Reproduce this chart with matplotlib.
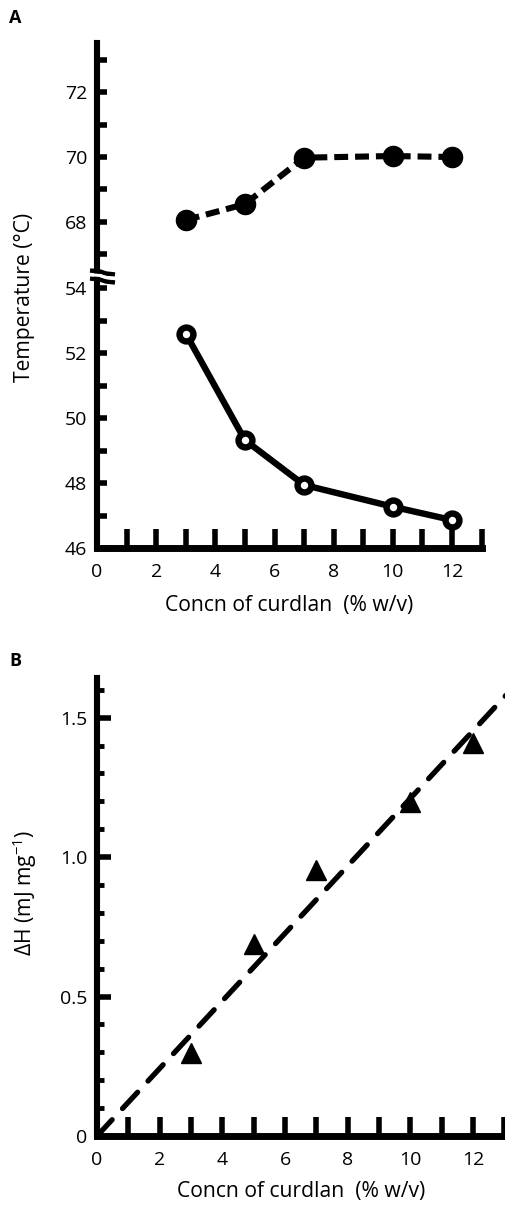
import matplotlib
matplotlib.use("Agg")
import matplotlib.pyplot as plt
from matplotlib.ticker import FixedLocator
from matplotlib.lines import Line2D

plt.rcParams['font.family'] = ['Open Sans', 'DejaVu Sans']
plt.rcParams['mathtext.default'] = 'regular'
plt.rcParams['lines.scale_dashes'] = False

# ---- data ----
conc = [3, 5, 7, 10, 12]
temp_high = [68.06, 68.55, 69.98, 70.03, 70.0]      # closed circles (dashed)
temp_low = [52.6, 49.32, 47.94, 47.27, 46.86]       # open circles (solid)
dH = [0.296, 0.69, 0.955, 1.197, 1.41]              # triangles
fit_x = [0.0, 13.05]
fit_y = [0.0, 1.58]

W, H = 506, 1205
fig = plt.figure(figsize=(W / 100, H / 100), dpi=100)

def fx(px):
    return px / W

def fy(py):
    return 1 - py / H

SPW = 4.4
TICKFS = 14
LABFS = 15.2

# ---- Panel A ----
left = fx(97)
wA = 384.6 / W
ax_up = fig.add_axes([left, fy(272), wA, (272 - 43) / H])
ax_lo = fig.add_axes([left, fy(548), wA, (548 - 278) / H])

for ax in (ax_up, ax_lo):
    ax.set_xlim(0, 13)
    for s in ('top', 'right'):
        ax.spines[s].set_visible(False)
    ax.spines['left'].set_linewidth(SPW)
    ax.spines['bottom'].set_linewidth(5)
    ax.tick_params(axis='y', which='both', direction='in', length=7, width=4,
                   labelsize=TICKFS, pad=7)
    ax.tick_params(axis='x', which='both', direction='in', length=14, width=4,
                   labelsize=TICKFS, pad=11)

ax_up.set_ylim(66.46, 73.51)
ax_up.spines['bottom'].set_visible(False)
ax_up.tick_params(axis='x', which='both', bottom=False, labelbottom=False)
ax_up.yaxis.set_major_locator(FixedLocator([68, 70, 72]))
ax_up.yaxis.set_minor_locator(FixedLocator([67, 69, 71, 73]))

ax_lo.set_ylim(46, 54.31)
ax_lo.yaxis.set_major_locator(FixedLocator([46, 48, 50, 52, 54]))
ax_lo.yaxis.set_minor_locator(FixedLocator([47, 49, 51, 53]))
ax_lo.xaxis.set_major_locator(FixedLocator([0, 2, 4, 6, 8, 10, 12]))
ax_lo.xaxis.set_minor_locator(FixedLocator([1, 3, 5, 7, 9, 11, 13]))

ax_up.plot(conc, temp_high, color='black', lw=4.4, linestyle=(0, (10, 5)),
           marker='o', ms=14.5, mfc='black', mec='black', clip_on=False)
ax_lo.plot(conc, temp_low, color='black', lw=4.6, linestyle='-',
           marker='o', ms=10, mew=4.6, mfc='white', mec='black', clip_on=False,
           zorder=5)

# axis break marks
for yb in (272, 280):
    fig.add_artist(Line2D([fx(90), fx(100), fx(106), fx(115)],
                          [fy(yb - 1.5), fy(yb - 0.5), fy(yb + 1.5), fy(yb + 2.5)],
                          color='black', lw=3.2, solid_capstyle='butt'))
fig.add_artist(Line2D([fx(88), fx(100), fx(106), fx(117)],
                      [fy(274.5), fy(275.5), fy(277.5), fy(278.5)],
                      color='white', lw=2.2))

fig.text(fx(289), fy(606), 'Concn of curdlan  (% w/v)', ha='center', va='center',
         fontsize=LABFS)
fig.text(fx(25), fy(297), 'Temperature (\u00b0C)', ha='center', va='center',
         rotation=90, fontsize=LABFS)
fig.text(fx(15), fy(18), 'A', ha='center', va='center', fontsize=13,
         fontweight='bold')

# ---- Panel B ----
axB = fig.add_axes([left, fy(1136), (W - 97) / W, (1136 - 678) / H])
axB.set_xlim(0, 13.05)
axB.set_ylim(0, 1.642)
for s in ('top', 'right'):
    axB.spines[s].set_visible(False)
axB.spines['left'].set_linewidth(SPW)
axB.spines['bottom'].set_linewidth(5)
axB.xaxis.set_major_locator(FixedLocator([0, 2, 4, 6, 8, 10, 12]))
axB.xaxis.set_minor_locator(FixedLocator([1, 3, 5, 7, 9, 11, 13]))
axB.tick_params(axis='x', which='both', direction='in', length=14, width=4,
                labelsize=TICKFS, pad=11)
axB.yaxis.set_major_locator(FixedLocator([0, 0.5, 1.0, 1.5]))
axB.yaxis.set_minor_locator(FixedLocator([0.1, 0.2, 0.3, 0.4, 0.6, 0.7, 0.8, 0.9,
                                          1.1, 1.2, 1.3, 1.4, 1.6]))
axB.set_yticklabels(['0', '0.5', '1.0', '1.5'])
axB.tick_params(axis='y', which='major', direction='in', length=10, width=4,
                labelsize=TICKFS, pad=7)
axB.tick_params(axis='y', which='minor', direction='in', length=5, width=3.5)

axB.plot(fit_x, fit_y, color='black', lw=3.8, linestyle=(0, (16, 11)),
         dash_capstyle='round', clip_on=False)
axB.plot(conc, dH, linestyle='none', marker='^', ms=15, color='black',
         clip_on=False, zorder=5)

fig.text(fx(301), fy(1192), 'Concn of curdlan  (% w/v)', ha='center', va='center',
         fontsize=LABFS)
fig.text(fx(25), fy(893), '\u0394H (mJ mg$^{-1}$)', ha='center', va='center',
         rotation=90, fontsize=LABFS)
fig.text(fx(15), fy(661), 'B', ha='center', va='center', fontsize=13,
         fontweight='bold')

fig.savefig('out.png', dpi=100)
